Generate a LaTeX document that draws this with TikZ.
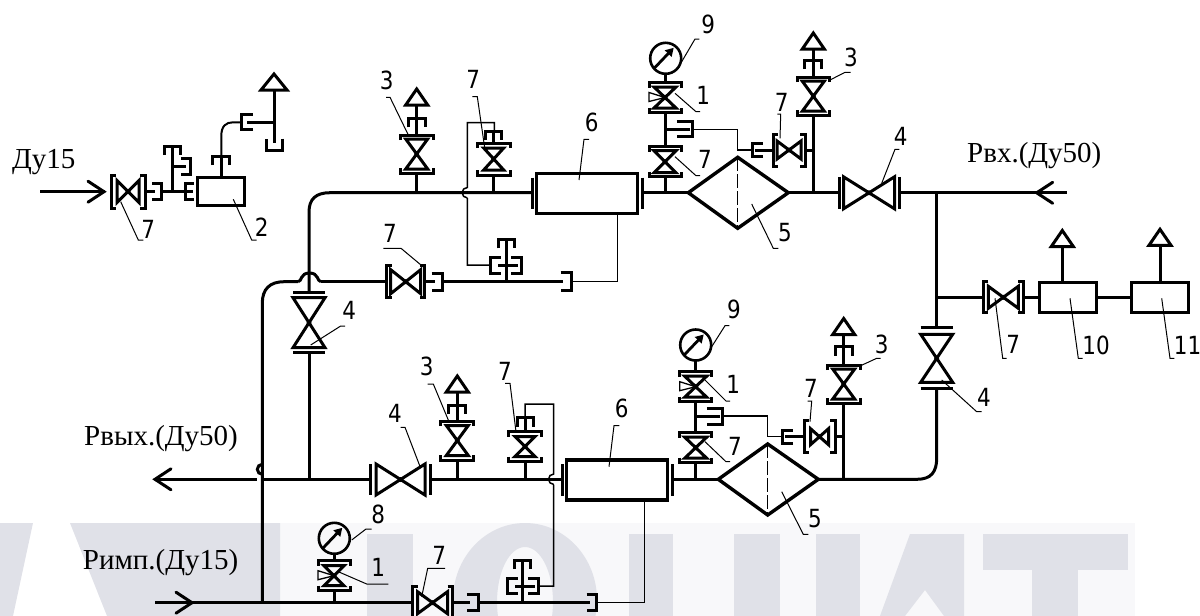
\documentclass[tikz,border=0pt]{standalone}
\usepackage{fontspec}
\setmainfont{Liberation Serif}
\newfontfamily\numfont[FakeStretch=0.86]{DejaVu Sans}
\usetikzlibrary{arrows.meta}
\definecolor{wm}{HTML}{E0E1E8}
\definecolor{wmlight}{HTML}{F8F8FA}
\tikzset{
  pipe/.style={line width=3pt},
  body/.style={line width=3pt},
  heavy/.style={line width=3.4pt},
  impulse/.style={line width=1.5pt},
  lead/.style={line width=1pt},
  num/.style={anchor=base,inner sep=0pt,font=\numfont\fontsize{25}{25}\selectfont},
  cap text/.style={anchor=base west,inner sep=0pt,font=\fontsize{29}{29}\selectfont},
  pics/bv/.style n args={4}{code={
    \draw[body] (-#1+5,-#4)--(-#1,-#4)--(-#1,#4)--(-#1+5,#4);
    \draw[body] (#1-5,-#4)--(#1,-#4)--(#1,#4)--(#1-5,#4);
    \draw[body] (-#2,-#3)--(-#2,#3)--(#2,-#3)--(#2,#3)--cycle;
    \fill (0,0) circle (2.5);
  }},
  pics/gv/.style n args={3}{code={
    \draw[body] (-#2,-#3)--(-#2,#3)--(#2,-#3)--(#2,#3)--cycle;
    \draw[body] (-#1,-#3)--(-#1,#3) (#1,-#3)--(#1,#3);
    \fill (0,0) circle (2.5);
  }},
  pics/cplg/.style n args={2}{code={
    \draw[body] (-#2,-#1)--(0,-#1)--(0,#1)--(-#2,#1);
  }},
  pics/vent/.style={code={
    \draw[body] (0,0)--(11,16)--(-11,16)--cycle;
  }},
  pics/gauge/.style={code={
    \draw[line width=2.6pt] (0,0) circle (15.5);
    \draw[line width=2.8pt,-{Triangle[length=8pt,width=9pt]}] (-11.5,10)--(8,-10.5);
  }},
  pics/needle/.style={code={
    \draw[line width=1.3pt] (-16,-5)--(-16,4)--(0,0)--cycle;
  }},
  pics/headr/.style={code={
    \draw[pipe,line cap=round] (-16,-10.5)--(0,0)--(-16,10.5);
  }},
}
\begin{document}
\begin{tikzpicture}[x=1pt,y=-1pt]
\useasboundingbox (0,0) rectangle (1200,616);
% ---- watermark
\fill[wmlight] (280,523) rectangle (1135,616);
\fill[wm] (0,523)--(33,523)--(13,616)--(0,616)--cycle;
\fill[wm] (70,523)--(280,523)--(280,616)--(107,616)--cycle;
\fill[wm] (367,534) rectangle (413,616);
\begin{scope}
\clip (440,523) rectangle (610,616);
\fill[wm,even odd rule] (525,600) ellipse [x radius=72,y radius=77] (525,602) ellipse [x radius=28,y radius=55];
\end{scope}
\fill[wm] (629,534) rectangle (673,616);
\fill[wm] (734,534) rectangle (780,616);
\fill[wm] (816,534) rectangle (860,616);
\fill[wm] (880,616)--(910,534)--(964,534)--(964,616)--(944,616)--(925,590)--(905,616)--cycle;
\fill[wm] (983,534) rectangle (1128,570);
\fill[wm] (1032,570) rectangle (1078,616);

% ---- named junctions
\coordinate (topL) at (309,192.7);
\coordinate (midR) at (936.7,193);
\coordinate (impL) at (262.3,602.7);

% ---- input group, top left
\draw[pipe] (40,191.7)--(105,191.7);
\pic at (104,191.7) {headr};
\pic at (128,191.5) {bv={17}{11}{11}{16.5}};
\draw[pipe] (145,191.5)--(155,191.5) (161,191.5)--(193,191.5);
\pic at (161,191.5) {cplg={8}{9}};
\pic[rotate=180] at (185,191.5) {cplg={8}{9}};
\draw[pipe] (172,191.5)--(172,146);
\pic[rotate=90] at (172,146) {cplg={8}{9}};
\draw[pipe] (172,166)--(186,166);
\pic at (190,166) {cplg={8}{9}};
\node[draw,body,minimum width=47pt,minimum height=28pt,inner sep=0pt,outer sep=0pt] (box2) at (221.3,191.5) {};
\draw[pipe] (box2.north)--(221.3,156.7);
\pic[rotate=90] at (221.3,156.7) {cplg={8.5}{8.5}};
\draw[line width=2pt] (221.3,156.7)--(221.3,136) .. controls (221.3,126) and (226,122.3) .. (233,122.3)--(241,122.3);
\pic[rotate=180] at (241,122.3) {cplg={7.5}{12}};
\draw[pipe] (247,122.3)--(274,122.3);
\draw[pipe] (274,90)--(274,143);
\draw[body] (274,74)--(287,90)--(261,90)--cycle;
\pic[rotate=-90] at (274,150.7) {cplg={8}{12}};

% ---- upper line
\draw[pipe] (532,192.7)--(330,192.7) .. controls (316,192.7) and (309,199) .. (309,212)--(309,292);
\pic[rotate=90] at (309,322.7) {gv={30}{25}{16}};
\draw[pipe] (309,353)--(309,479.3);
\draw[heavy,fill=white] (536.7,173.3) rectangle (637.7,213.3);
\draw[pipe] (532.7,177.7)--(532.7,209.3) (642,177.7)--(642,209.3);
\draw[pipe] (642,192.7)--(688.3,192.7);
\draw[heavy,line join=miter] (688.3,192.7)--(737.7,157.3)--(788.3,192.7)--(737.7,228.3)--cycle;
\draw[line width=1pt,dash pattern=on 14pt off 3pt] (737.7,157.3)--(737.7,228.3);
\draw[pipe] (788.3,192.7)--(839,192.7);
\pic at (869,192.8) {gv={30}{25.5}{16}};
\draw[pipe] (899,192.8)--(1066.7,192.8);
\pic[rotate=180] at (1036.7,192.8) {headr};

% valve 3 on upper line
\draw[pipe] (416.7,192.7)--(416.7,173);
\pic[rotate=90] at (416.7,154) {bv={19}{15}{11}{16.5}};
\draw[pipe] (416.7,135)--(416.7,105);
\pic[rotate=90] at (416.7,118.3) {cplg={8.5}{9}};
\pic at (416.7,89) {vent};

% valve 7 with tap, upper line
\draw[pipe] (493.7,192.7)--(493.7,175);
\pic[rotate=90] at (493.7,159) {bv={16}{11}{10}{16.5}};
\draw[pipe] (493.7,143)--(493.7,131);
\pic[rotate=90] at (493.7,131) {cplg={8}{9}};
\draw[impulse] (494.3,131)--(494.3,122.7)--(467.3,122.7)--(467.3,187.5) arc[start angle=-90,end angle=-270,radius=5.2] (467.3,198)--(467.3,265)--(490.7,265);

% gauge branch, upper line
\draw[pipe] (665,192.7)--(665,176.7);
\pic[rotate=90] at (665,161.7) {bv={15}{11}{11}{16}};
\draw[pipe] (665,146.7)--(665,112.5);
\pic[rotate=90] at (665,97.5) {bv={15}{10.5}{11}{16}};
\pic at (665,97.5) {needle};
\draw[pipe] (665,82.5)--(665,74);
\pic at (665.7,58.3) {gauge};
\draw[pipe] (665,129.3)--(690,129.3);
\pic at (692.3,129.3) {cplg={7.5}{15.5}};
\draw[impulse] (692.3,129.3)--(737.3,129.3)--(737.3,150)--(752.7,150);
\pic[rotate=180] at (752.7,150) {cplg={6.5}{10.5}};
\draw[pipe] (755,150)--(773,150);
\pic at (789,150) {bv={16}{12}{9}{16}};
\draw[pipe] (805,150)--(813.3,150);
\draw[pipe] (813.3,192.7)--(813.3,115);
\pic[rotate=90] at (813.3,96.2) {bv={19}{15}{11}{16}};
\draw[pipe] (813.3,77)--(813.3,49);
\pic[rotate=90] at (813.3,60) {cplg={8.5}{9}};
\pic at (813.3,33) {vent};

% ---- mid line and impulse
\draw[pipe] (321,281.7)--(385,281.7);
\draw[pipe] (298,281.7) .. controls (302,281.7) and (300,273) .. (309.5,273) .. controls (319,273) and (317,281.7) .. (321,281.7);
\draw[pipe] (298,281.7)--(284,281.7) .. controls (270,281.7) and (262.3,289) .. (262.3,303)--(impL);
\pic at (405.7,281.7) {bv={19}{15}{12}{16}};
\draw[pipe] (425,281.7)--(435,281.7) (442.5,281.7)--(563,281.7);
\pic at (442.5,281.7) {cplg={8.5}{11}};
\pic at (571.7,281.7) {cplg={9}{11}};
\draw[impulse] (571.7,281.7)--(617.7,281.7)--(617.7,213.3);
\draw[pipe] (506,281.7)--(506,239.3);
\pic[rotate=90] at (506,239.3) {cplg={8}{9}};
\draw[pipe] (498,265)--(518,265);
\pic[rotate=180] at (490.7,265) {cplg={8}{10}};
\pic at (521,265) {cplg={8}{10}};

% ---- right side
\draw[pipe] (midR)--(936.7,328.5);
\pic[rotate=90] at (936.7,358.3) {gv={30.5}{24}{16}};
\draw[pipe] (936.7,389)--(936.7,458) .. controls (936.7,472) and (931,479.3) .. (917,479.3)--(818.3,479.3);
\draw[pipe] (936.7,297.3)--(983,297.3);
\pic at (1003.3,297.3) {bv={20}{15}{11}{15.5}};
\draw[pipe] (1023,297.3)--(1039.3,297.3);
\node[draw,body,minimum width=57pt,minimum height=30.5pt,inner sep=0pt,outer sep=0pt] (box10) at (1067.7,297.5) {};
\node[draw,body,minimum width=57pt,minimum height=30.5pt,inner sep=0pt,outer sep=0pt] (box11) at (1159.5,297.5) {};
\draw[pipe] (box10.east)--(box11.west);
\draw[pipe] (1062.3,282)--(1062.3,246);
\pic at (1062.3,230.5) {vent};
\draw[pipe] (1160,282)--(1160,245);
\pic at (1160,229.3) {vent};

% ---- lower line
\draw[pipe] (155,479.3)--(257,479.3);
\pic[rotate=180] at (155,479.3) {headr};
\draw[pipe] (262.3,474.3) arc[start angle=90,end angle=270,radius=5];
\draw[pipe] (263,479.3)--(370,479.3);
\pic at (400.5,479.5) {gv={30}{24.5}{15.5}};
\draw[pipe] (431,479.3)--(562,479.3);
\draw[heavy,fill=white] (566.7,460) rectangle (667.7,500);
\draw[pipe] (562.7,464)--(562.7,496) (672,464)--(672,496);
\draw[pipe] (672,479.3)--(718.3,479.3);
\draw[heavy,line join=miter] (718.3,479.3)--(767.7,444)--(818.3,479.3)--(767.7,515)--cycle;
\draw[line width=1pt,dash pattern=on 14pt off 3pt] (767.7,444)--(767.7,515);

\draw[pipe] (457.3,479.3)--(457.3,460);
\pic[rotate=90] at (457.3,440.5) {bv={19.5}{15}{11}{16.5}};
\draw[pipe] (457.3,421)--(457.3,391);
\pic[rotate=90] at (457.3,405) {cplg={8.5}{9}};
\pic at (457.3,376) {vent};

\draw[pipe] (525,479.3)--(525,461.5);
\pic[rotate=90] at (525,446.5) {bv={15}{10}{10}{16.5}};
\draw[pipe] (525,431.5)--(525,417.7);
\pic[rotate=90] at (525,417.7) {cplg={8}{9}};
\draw[impulse] (525,417.7)--(525,404)--(553.7,404)--(553.7,474) arc[start angle=-90,end angle=-270,radius=5.2] (553.7,484.5)--(553.7,586)--(538.3,586);

\draw[pipe] (695.7,479.3)--(695.7,462.7);
\pic[rotate=90] at (695.7,447.7) {bv={15}{10.5}{11}{16}};
\draw[pipe] (695.7,432.7)--(695.7,401.7);
\pic[rotate=90] at (695.7,386.7) {bv={15}{10.5}{11}{16}};
\pic at (695.7,386.7) {needle};
\draw[pipe] (695.7,371.7)--(695.7,361);
\pic at (695.7,345) {gauge};
\draw[pipe] (695.7,416)--(720,416);
\pic at (722.3,416) {cplg={8}{15.5}};
\draw[impulse] (722.3,416)--(767.3,416)--(767.3,436.7)--(782.7,436.7);
\pic[rotate=180] at (782.7,436.7) {cplg={6.7}{10.5}};
\draw[pipe] (785,436.7)--(804,436.7);
\pic at (819.5,436.7) {bv={15.5}{9}{8}{16}};
\draw[pipe] (835,436.7)--(843.7,436.7);
\draw[pipe] (843.7,479.3)--(843.7,403);
\pic[rotate=90] at (843.7,384) {bv={19}{15}{11}{16.5}};
\draw[pipe] (843.7,365)--(843.7,334);
\pic[rotate=90] at (843.7,346.7) {cplg={8.5}{9}};
\pic at (843.7,318.5) {vent};

% ---- impulse line, bottom
\draw[pipe] (155,602.7)--(412,602.7);
\pic at (192,602.7) {headr};
\draw[pipe] (334,602.7)--(334,590.7);
\pic[rotate=90] at (334,575.7) {bv={15}{10}{10}{16}};
\pic at (334,575.7) {needle};
\draw[pipe] (334,560.7)--(334,554);
\pic at (334.3,538.3) {gauge};
\pic at (432.5,602.7) {bv={20}{15}{11}{16}};
\draw[pipe] (452,602.7)--(470,602.7) (478,602.7)--(590,602.7);
\pic at (478.3,602.7) {cplg={8}{11.5}};
\pic at (596.7,602.7) {cplg={8}{10}};
\draw[impulse] (596.7,602.7)--(644.3,602.7)--(644.3,500);
\draw[pipe] (522.3,602.7)--(522.3,560.7);
\pic[rotate=90] at (522.3,560.7) {cplg={8}{8.5}};
\draw[pipe] (515,586)--(535,586);
\pic[rotate=180] at (507.3,586) {cplg={7.7}{10.5}};
\pic at (538.3,586) {cplg={7.7}{10.5}};

% ---- captions
\node[cap text] (tDu) at (12,168) {Ду15};
\node[cap text] (tIn) at (967,162.7) {Рвх.(Ду50)};
\node[cap text] (tOut) at (84,445.7) {Рвых.(Ду50)};
\node[cap text] (tImp) at (82.7,569.3) {Римп.(Ду15)};

% ---- position numbers with leaders
\node[num] (n1) at (148.3,238) {7};
\draw[lead] (120.7,201.7)--(138.3,240)--(143.3,240);
\node[num] (n2) at (261.7,236.7) {2};
\draw[lead] (233.3,199.3)--(251.7,240)--(256.7,240);
\node[num] (n3) at (386.7,89.3) {3};
\draw[lead] (408.3,135)--(390,97.3)--(386,97.3);
\node[num] (n4) at (473.3,88.3) {7};
\draw[lead] (485,150)--(477.3,96.7)--(472.3,96.7);
\node[num] (n5) at (591.7,131.7) {6};
\draw[lead] (579,180)--(584,139.3)--(589,139.3);
\node[num] (n6) at (708.3,33.3) {9};
\draw[lead] (681.7,61.7)--(695,39)--(699.3,39);
\node[num] (n7) at (703.3,104) {1};
\draw[lead] (675,93.3)--(696,111.7)--(700,111.7);
\node[num] (n8) at (705,168.3) {7};
\draw[lead] (675,156.7)--(696,175.7)--(700,175.7);
\node[num] (n9) at (785,241.7) {5};
\draw[lead] (751.7,204)--(773.3,248.3)--(778.3,248.3);
\node[num] (n10) at (781.7,111) {7};
\draw[lead] (780,138.3)--(780.7,114)--(777.3,114);
\node[num] (n11) at (851,66) {3};
\draw[lead] (830,80)--(845,72.3)--(850.7,72.3);
\node[num] (n12) at (900.7,145) {4};
\draw[lead] (881.7,183.3)--(895,149.3)--(899.3,149.3);
\node[num] (n13) at (1013.3,353.3) {7};
\draw[lead] (995,298.3)--(1002.7,358.3)--(1006.7,358.3);
\node[num] (n14) at (1096,354) {10};
\draw[lead] (1070,298.3)--(1078.3,358.3)--(1082.7,358.3);
\node[num] (n15) at (1187.5,354) {11};
\draw[lead] (1161.7,298.3)--(1170,358.3)--(1174.3,358.3);
\node[num] (n16) at (881.7,353.3) {3};
\draw[lead] (860,366)--(876.7,358.3)--(880.7,358.3);
\node[num] (n17) at (811,397.3) {7};
\draw[lead] (810,421.7)--(811.7,401)--(807.7,401);
\node[num] (n18) at (984,406.7) {4};
\draw[lead] (941.7,380)--(976.7,411.7)--(981.7,411.7);
\node[num] (n19) at (349.3,319.3) {4};
\draw[lead] (310.7,345)--(340.7,326)--(345,326);
\node[num] (n20) at (390,242.7) {7};
\draw[lead] (423,266.7)--(401,248.3)--(383.3,248.3);
\node[num] (n21) at (426.7,375) {3};
\draw[lead] (448.3,420)--(433.3,384)--(427.7,384);
\node[num] (n22) at (395,422.7) {4};
\draw[lead] (420.7,468.3)--(405,427.3)--(400.7,427.3);
\node[num] (n23) at (505,380) {7};
\draw[lead] (516,431.7)--(510,383.3)--(505,383.3);
\node[num] (n24) at (621.7,417.7) {6};
\draw[lead] (609,466.7)--(614,425.7)--(619.3,425.7);
\node[num] (n25) at (734,318.3) {9};
\draw[lead] (711.7,346.7)--(725,325.7)--(729.3,325.7);
\node[num] (n26) at (733.3,393.3) {1};
\draw[lead] (705,380)--(726,401)--(730,401);
\node[num] (n27) at (735,455) {7};
\draw[lead] (705,441.7)--(726,461.7)--(730,461.7);
\node[num] (n28) at (815,527.7) {5};
\draw[lead] (781.7,491.7)--(803.3,534.3)--(808.3,534.3);
\node[num] (n29) at (378.3,523.3) {8};
\draw[lead] (351.7,540)--(366,529)--(371.7,529);
\node[num] (n30) at (378.3,576.7) {1};
\draw[lead] (338.3,571.7)--(366.7,584)--(388.3,584);
\node[num] (n31) at (439.3,564.3) {7};
\draw[lead] (421.7,596.7)--(427.7,568.3)--(445,568.3);
\end{tikzpicture}
\end{document}
